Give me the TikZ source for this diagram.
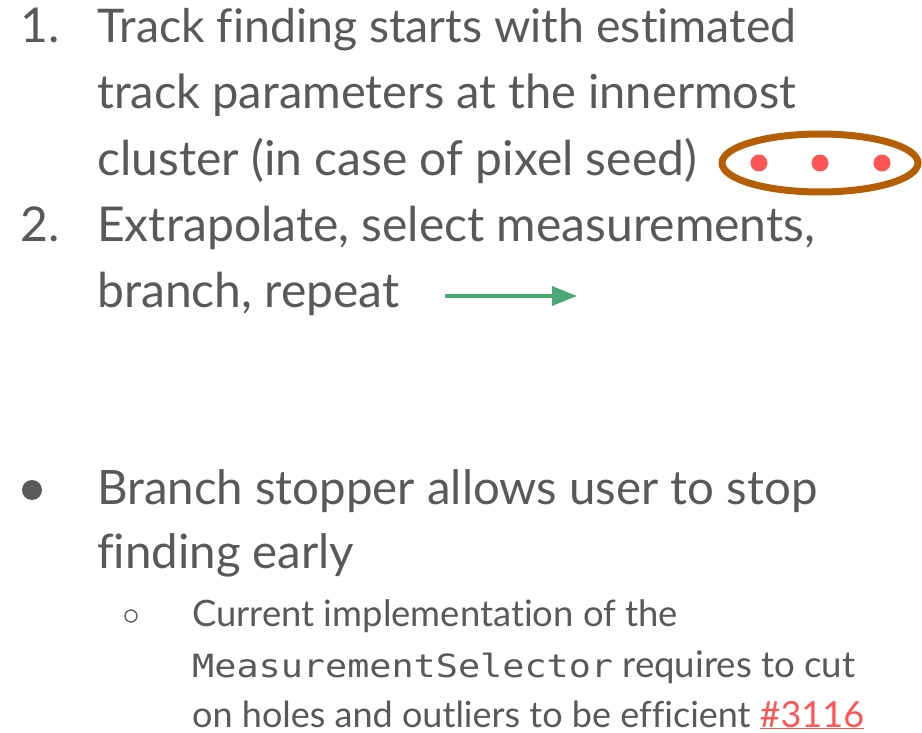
\documentclass[tikz,border=0pt]{standalone}
\usepackage{fontspec}
\setmainfont{Lato}[Ligatures={NoCommon}]
\newfontfamily\codefont[FakeStretch=1.15]{DejaVu Sans Mono}
\usetikzlibrary{arrows.meta,shapes.geometric}
\definecolor{txt}{HTML}{595959}
\definecolor{ring}{HTML}{B45F06}
\definecolor{hit}{HTML}{FF5555}
\definecolor{arr}{HTML}{4CA777}
\definecolor{link}{HTML}{FF5555}
\tikzset{
  bigline/.style={anchor=base west, inner sep=0pt, text=txt, font=\fontsize{48}{58}\selectfont},
  midline/.style={anchor=base west, inner sep=0pt, text=txt, font=\fontsize{47.4}{56}\selectfont},
  smallline/.style={anchor=base west, inner sep=0pt, text=txt, font=\fontsize{36.4}{42}\selectfont},
  hitdot/.style={circle, fill=hit, inner sep=0pt, minimum size=17pt},
}
\begin{document}
\begin{tikzpicture}[x=1pt,y=-1pt]
\useasboundingbox[fill=white] (0,0) rectangle (922,733);
% numbered items
\node[bigline] (n1) at (20,43) {1.};
\node[bigline, font=\fontsize{46.4}{58}\selectfont] (l1) at (97,43) {Track finding starts with estimated};
\node[bigline, font=\fontsize{47}{58}\selectfont] (l2) at (97,109) {track parameters at the innermost};
\node[bigline] (l3) at (97,176) {cluster (in case of pixel seed)};
\node[bigline] (n2) at (20,242) {2.};
\node[bigline] (l4) at (97,242) {Extrapolate, select measurements,};
\node[bigline] (l5) at (97,307) {branch, repeat};
% seed ellipse with hits
\node[draw=ring, line width=7pt, ellipse, minimum width=196pt, minimum height=58pt, inner sep=0pt] (seed) at (820,163) {};
\node[hitdot] (h1) at (759,163) {};
\node[hitdot] (h2) at (820,163) {};
\node[hitdot] (h3) at (882,163) {};
% arrow
\coordinate (as) at (445,296);
\coordinate (ae) at (577,296);
\draw[arr, line width=3.5pt, -{Triangle[length=25pt,width=19pt]}] (as) -- (ae);
% bullet
\node[circle, fill=txt, inner sep=0pt, minimum size=20pt] (b1) at (32,490) {};
\node[midline] (l6) at (97,504) {Branch stopper allows user to stop};
\node[midline] (l7) at (97,568) {finding early};
% sub bullet
\node[circle, draw=txt, line width=1.3pt, inner sep=0pt, minimum size=12pt] (b2) at (131,616) {};
\node[smallline] (l8) at (192,626) {Current implementation of the};
\node[smallline, font=\fontsize{36.6}{42}\selectfont] (l9) at (192,677) {{\codefont\fontsize{32}{40}\selectfont MeasurementSelector} requires to cut};
\node[smallline, font=\fontsize{36}{42}\selectfont] (l10) at (192,727) {on holes and outliers to be efficient \textcolor{link}{\underline{\#3116}}};
\end{tikzpicture}
\end{document}
